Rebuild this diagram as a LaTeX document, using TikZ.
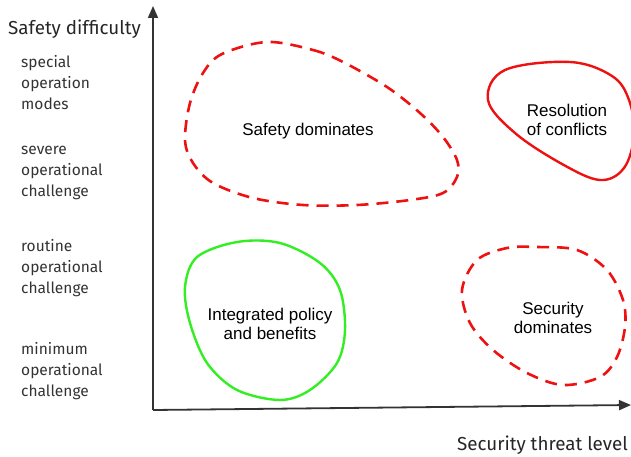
\documentclass[tikz,border=0pt]{standalone}
\usepackage{fontspec}
\setmainfont{Liberation Sans}
\newfontfamily\axisfont{Fira Sans}
\usetikzlibrary{arrows.meta}
\definecolor{axisgray}{HTML}{333333}
\definecolor{zonered}{HTML}{EE1111}
\definecolor{zonegreen}{HTML}{33EE22}

\begin{document}
\begin{tikzpicture}[x=1pt, y=-1pt,
  axis/.style={line width=1.8pt, color=axisgray, -{Triangle[width=10pt,length=12pt]}},
  levellabel/.style={anchor=west, align=left, font=\axisfont\fontsize{15.5}{21}\selectfont, text=axisgray, inner sep=0pt},
  axislabel/.style={font=\axisfont\fontsize{18.8}{22}\selectfont, text=black!85, inner sep=0pt},
  zonelabel/.style={align=center, font=\fontsize{17}{19.5}\selectfont, inner sep=0pt},
  dashzone/.style={line width=2.6pt, color=zonered, dash pattern=on 12pt off 8pt},
  redzone/.style={line width=2.4pt, color=zonered},
  greenzone/.style={line width=2.4pt, color=zonegreen}]
\useasboundingbox (0,0) rectangle (631,457);

\coordinate (origin) at (153,410);
\coordinate (ytop) at (153,6);
\coordinate (xend) at (631,405);
\draw[axis] (origin) -- (ytop);
\draw[axis] (origin) -- (xend);

\node[axislabel, anchor=west] (ylabel) at (8,29) {Safety difficulty};
\node[axislabel, anchor=east] (xlabel) at (628,445) {Security threat level};

\node[levellabel] (special) at (21,83) {special\\operation\\modes};
\node[levellabel] (severe) at (21,173) {severe\\operational\\challenge};
\node[levellabel] (routine) at (21,268) {routine\\operational\\challenge};
\node[levellabel] (minimum) at (21,371) {minimum\\operational\\challenge};

% zones
\draw[dashzone] plot[smooth cycle, tension=0.55] coordinates
  {(267,42) (313,50) (343,62) (387,87) (420,113) (443,137) (457,160) (457,177)
   (443,193) (410,200) (357,205) (303,205) (253,198) (213,183) (193,163)
   (185,140) (190,103) (203,73) (222,54)};
\node[zonelabel] (safety) at (308,131) {Safety dominates};

\draw[redzone] plot[smooth cycle, tension=0.6] coordinates
  {(570,62) (612,76) (629,100) (634,135) (624,168) (600,180) (562,164)
   (515,133) (488,100) (505,70)};
\node[zonelabel] (conflicts) at (567,120) {Resolution\\of conflicts};

\draw[dashzone] plot[smooth cycle, tension=0.55] coordinates
  {(537,247) (577,250) (607,270) (623,300) (625,327) (617,357) (600,377)
   (563,385) (527,373) (493,350) (470,323) (462,290) (477,260) (507,248)};
\node[zonelabel] (security) at (553,318) {Security\\dominates};

\draw[greenzone] plot[smooth cycle, tension=0.55] coordinates
  {(280,243) (320,263) (340,290) (345,330) (337,363) (310,390) (280,400)
   (237,390) (207,363) (190,323) (185,287) (197,257) (237,242)};
\node[zonelabel] (integrated) at (270,324) {Integrated policy\\and benefits};

\end{tikzpicture}
\end{document}
